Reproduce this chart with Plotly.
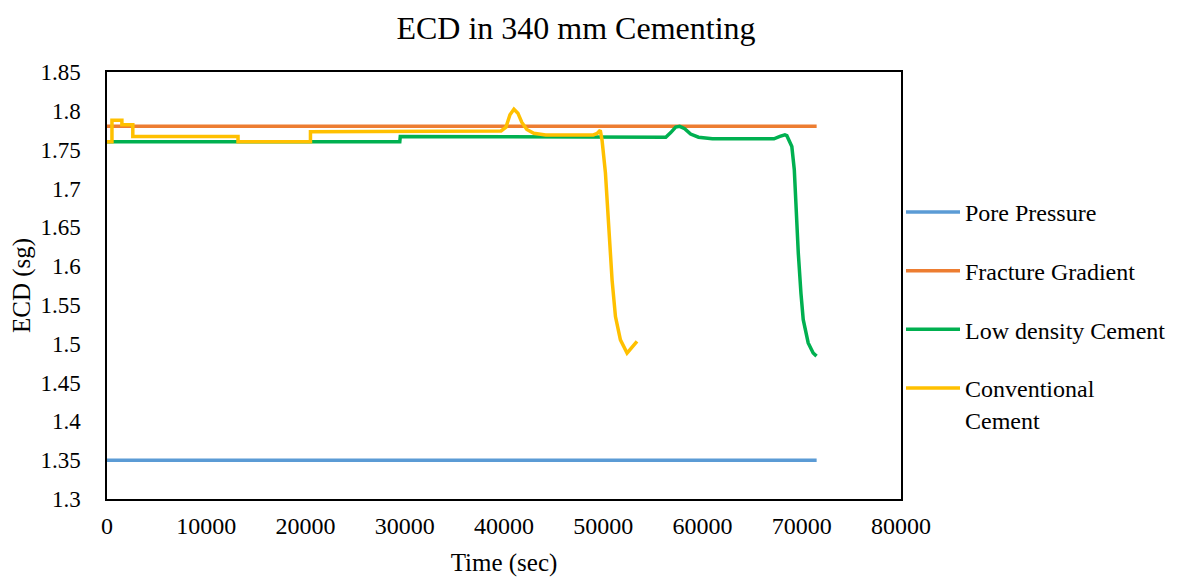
import plotly.graph_objects as go

# ---- data ----
pore_x = [0, 71500]
pore_y = [1.35, 1.35]

frac_x = [0, 71500]
frac_y = [1.78, 1.78]

low_x = [0, 29500, 29550, 56300, 56800, 57300, 57700, 58200, 58800, 59600, 61000,
         67200, 67800, 68300, 68500, 69000, 69250, 69480, 69650, 69920, 70150,
         70650, 71150, 71490]
low_y = [1.760, 1.760, 1.767, 1.766, 1.772, 1.779, 1.780, 1.777, 1.770, 1.766, 1.764,
         1.764, 1.767, 1.769, 1.768, 1.754, 1.724, 1.659, 1.617, 1.565, 1.531,
         1.501, 1.488, 1.484]

conv_x = [0, 500, 500, 1500, 1500, 2600, 2600, 13200, 13200, 20500, 20500,
          39700, 40200, 40600, 41000, 41400, 41800, 42300, 43000, 44200, 49000,
          49400, 49700, 49880, 50220, 50550, 50720, 50890, 51230, 51730, 52400, 53400]
conv_y = [1.760, 1.760, 1.788, 1.788, 1.782, 1.782, 1.767, 1.767, 1.760, 1.760, 1.773,
          1.774, 1.779, 1.795, 1.802, 1.797, 1.785, 1.776, 1.771, 1.769, 1.769,
          1.771, 1.775, 1.762, 1.720, 1.655, 1.620, 1.582, 1.535, 1.505, 1.488, 1.503]

x_ticks = [0, 10000, 20000, 30000, 40000, 50000, 60000, 70000, 80000]
x_tick_text = ["0", "10000", "20000", "30000", "40000", "50000", "60000", "70000", "80000"]
y_ticks = [1.3, 1.35, 1.4, 1.45, 1.5, 1.55, 1.6, 1.65, 1.7, 1.75, 1.8, 1.85]
y_tick_text = ["1.3", "1.35", "1.4", "1.45", "1.5", "1.55", "1.6", "1.65", "1.7", "1.75", "1.8", "1.85"]

FONT = "Liberation Serif"

fig = go.Figure()
series = [
    ("Pore Pressure", pore_x, pore_y, "#5B9BD5"),
    ("Fracture Gradient", frac_x, frac_y, "#ED7D31"),
    ("Low density Cement", low_x, low_y, "#00B050"),
    ("Conventional<br>Cement", conv_x, conv_y, "#FFC000"),
]
for i, (name, xs, ys, col) in enumerate(series):
    fig.add_trace(go.Scatter(x=xs, y=ys, mode="lines", name=name,
                             legendgroup=f"g{i}",
                             line=dict(color=col, width=3.5)))

fig.update_layout(
    width=1175, height=569,
    margin=dict(l=99, r=280, t=64, b=78),
    paper_bgcolor="white", plot_bgcolor="white",
    font=dict(family=FONT, color="black", size=24),
    title=dict(text="ECD in 340 mm Cementing", x=0.4834, xref="container", xanchor="center",
               y=0.965, yref="container", yanchor="middle", font=dict(size=32, family=FONT)),
    legend=dict(x=1.0, xanchor="left", y=0.724, yanchor="top",
                font=dict(size=24, family=FONT), tracegroupgap=24.5,
                itemwidth=54, valign="top", bgcolor="rgba(0,0,0,0)"),
    showlegend=True,
)
fig.update_xaxes(range=[0, 80000], tickvals=x_ticks, ticktext=x_tick_text,
                 showgrid=False, zeroline=False, showline=True, linecolor="black",
                 linewidth=1.5, mirror=True, ticks="", ticklabelstandoff=4,
                 automargin=False,
                 tickfont=dict(size=24, family=FONT),
                 title=dict(text="Time (sec)", font=dict(size=25, family=FONT), standoff=16))
fig.update_yaxes(range=[1.3, 1.85], tickvals=y_ticks, ticktext=y_tick_text,
                 showgrid=False, zeroline=False, showline=True, linecolor="black",
                 linewidth=1.5, mirror=True, ticks="", ticklabelstandoff=20,
                 automargin=False,
                 tickfont=dict(size=23, family=FONT),
                 title=dict(text="ECD (sg)", font=dict(size=25, family=FONT), standoff=4))

fig.write_html("out.html")
